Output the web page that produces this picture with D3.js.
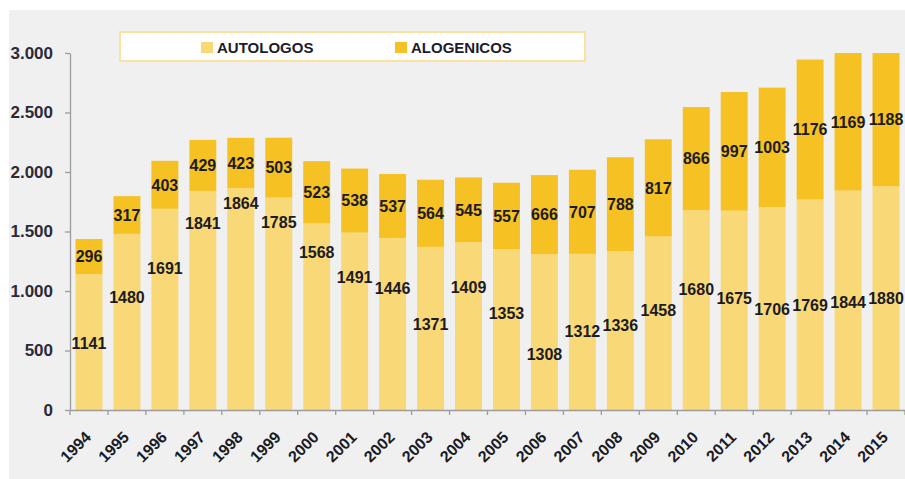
<!DOCTYPE html>
<html>
<head>
<meta charset="utf-8">
<script src="https://cdn.jsdelivr.net/npm/d3@7"></script>
<style>
  html, body { margin: 0; padding: 0; background: #ffffff; }
  svg { display: block; font-family: "Liberation Sans", Arial, sans-serif; }
</style>
</head>
<body>
<svg id="chart" width="905" height="479"></svg>
<script>
// ---- data ----
const years = ["1994","1995","1996","1997","1998","1999","2000","2001","2002","2003","2004","2005","2006","2007","2008","2009","2010","2011","2012","2013","2014","2015"];
const autologos = [1141,1480,1691,1841,1864,1785,1568,1491,1446,1371,1409,1353,1308,1312,1336,1458,1680,1675,1706,1769,1844,1880];
const alogenicos = [296,317,403,429,423,503,523,538,537,564,545,557,666,707,788,817,866,997,1003,1176,1169,1188];
// value level at which each AUTOLOGOS label sits (labels were moved by hand in the original)
const autologosLabelAt = [563,950,1193,1571,1739,1580,1328,1118,1025,723,1034,815,471,664,714,840,1017,941,849,882,908,941];
const yTicks = [0,500,1000,1500,2000,2500,3000];
const seriesNames = ["AUTOLOGOS","ALOGENICOS"];
const yMax = 3000;

// ---- styles ----
const colAuto = "#F9D877";
const colAlo = "#F6C123";
const textCol = "#1b1b24";
const axisCol = "#9c9c9c";

(function () {
const svg = d3.select("#chart");
const W = 905, H = 479;
const mLeft = 70, mRight = 905, mTop = 53, mBottom = 410;

svg.append("rect").attr("x", 9).attr("y", 10).attr("width", W - 9).attr("height", H - 10).attr("fill", "#f0f0f0");

const x = d3.scaleBand().domain(years).range([mLeft, mRight]).paddingInner(0.29).paddingOuter(0.145);
const y = d3.scaleLinear().domain([0, yMax]).range([mBottom, mTop]);

const loc = d3.formatLocale({decimal: ",", thousands: ".", grouping: [3], currency: ["", ""]});
const fmt = loc.format(",");

svg.append("clipPath").attr("id", "plotclip")
  .append("rect").attr("x", mLeft).attr("y", mTop).attr("width", mRight - mLeft).attr("height", mBottom - mTop);

const data = years.map((yr, i) => ({yr, a: autologos[i], b: alogenicos[i], la: autologosLabelAt[i]}));

const bars = svg.append("g").attr("clip-path", "url(#plotclip)");
bars.selectAll("rect.auto").data(data).join("rect")
  .attr("class", "auto")
  .attr("x", d => x(d.yr)).attr("width", x.bandwidth())
  .attr("y", d => y(d.a)).attr("height", d => y(0) - y(d.a))
  .attr("fill", colAuto);
bars.selectAll("rect.alo").data(data).join("rect")
  .attr("class", "alo")
  .attr("x", d => x(d.yr)).attr("width", x.bandwidth())
  .attr("y", d => y(d.a + d.b)).attr("height", d => y(d.a) - y(d.a + d.b))
  .attr("fill", colAlo);

// y axis
const yAxis = d3.axisLeft(y).tickValues(yTicks).tickFormat(fmt).tickSize(5).tickSizeOuter(0).tickPadding(12);
const gy = svg.append("g").attr("transform", `translate(${mLeft},0)`).call(yAxis);
gy.select(".domain").attr("stroke", axisCol).attr("stroke-width", 1.3);
gy.selectAll(".tick line").attr("stroke", axisCol).attr("stroke-width", 1.3);
gy.selectAll(".tick text").attr("fill", "#2a2a38").attr("font-size", 17).attr("font-weight", "bold")
  .attr("font-family", "'Liberation Sans', Arial, sans-serif");

// x axis
const xAxis = d3.axisBottom(x).tickSize(0).tickSizeOuter(0);
const gx = svg.append("g").attr("transform", `translate(0,${mBottom})`).call(xAxis);
gx.select(".domain").attr("stroke", axisCol).attr("stroke-width", 1.3);
gx.selectAll(".tick text")
  .attr("fill", textCol).attr("font-size", 16).attr("font-weight", "bold")
  .attr("font-family", "'Liberation Sans', Arial, sans-serif")
  .attr("text-anchor", "end")
  .attr("dy", 0)
  .attr("transform", "translate(1,26) rotate(-45)");

// boundary ticks
const step = x.step();
const bounds = years.map(yr => x(yr) - step * x.paddingInner() / 2);
bounds.push(x(years[years.length - 1]) + x.bandwidth() + step * x.paddingInner() / 2);
svg.append("g").selectAll("line").data(bounds).join("line")
  .attr("x1", d => d).attr("x2", d => d)
  .attr("y1", mBottom).attr("y2", mBottom + 5)
  .attr("stroke", axisCol).attr("stroke-width", 1.3);

// labels
const lab = svg.append("g").attr("font-size", 16).attr("font-weight", "bold").attr("fill", textCol)
  .attr("text-anchor", "middle").attr("font-family", "'Liberation Sans', Arial, sans-serif");
lab.selectAll("text.la").data(data).join("text")
  .attr("class", "la")
  .attr("x", d => x(d.yr) + x.bandwidth() / 2)
  .attr("y", d => y(d.la)).attr("dy", "0.36em")
  .text(d => d.a);
lab.selectAll("text.lb").data(data).join("text")
  .attr("class", "lb")
  .attr("x", d => x(d.yr) + x.bandwidth() / 2)
  .attr("y", d => y((d.a + Math.min(d.a + d.b, yMax)) / 2)).attr("dy", "0.36em")
  .text(d => d.b);

// legend
const lg = svg.append("g");
lg.append("rect").attr("x", 120).attr("y", 32).attr("width", 465).attr("height", 29)
  .attr("fill", "#ffffff").attr("stroke", "#FAE2A0").attr("stroke-width", 2);
const legItems = [{name: seriesNames[0], col: colAuto, x: 201}, {name: seriesNames[1], col: colAlo, x: 395}];
legItems.forEach(it => {
  lg.append("rect").attr("x", it.x).attr("y", 42).attr("width", 12).attr("height", 11).attr("fill", it.col);
  lg.append("text").attr("x", it.x + 16).attr("y", 53).attr("font-size", 15).attr("font-weight", "bold")
    .attr("fill", "#1c1c2c").attr("font-family", "'Liberation Sans', Arial, sans-serif").text(it.name);
});
})();
</script>
</body>
</html>
